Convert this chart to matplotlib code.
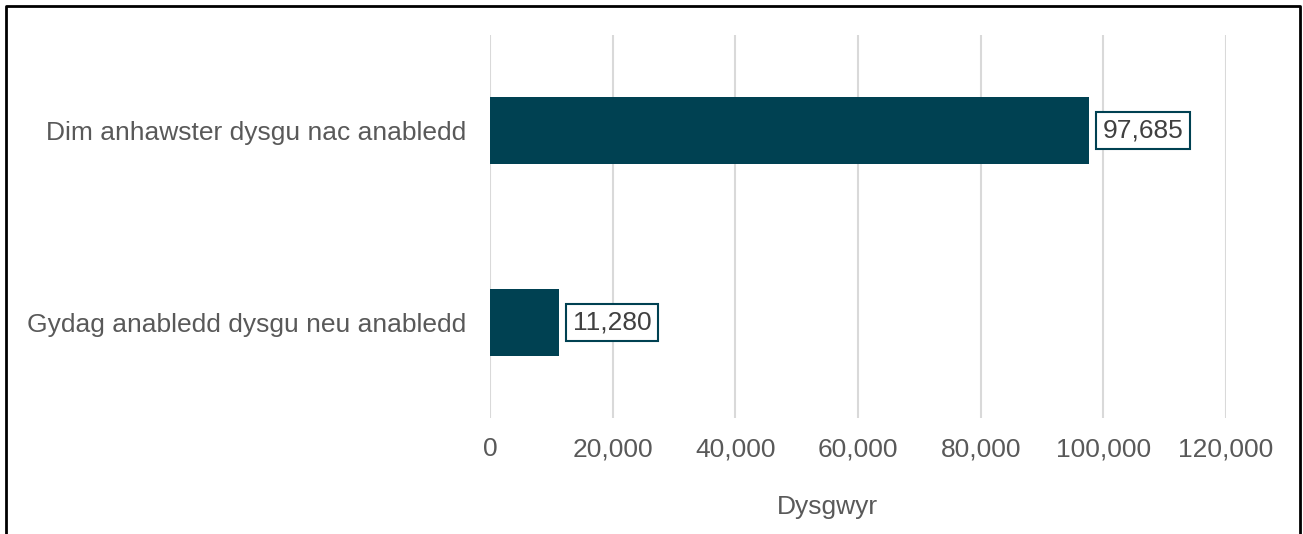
import matplotlib.pyplot as plt
from matplotlib.ticker import FuncFormatter

plt.rcParams['font.family'] = ['Liberation Sans', 'DejaVu Sans']

categories = ['Dim anhawster dysgu nac anabledd', 'Gydag anabledd dysgu neu anabledd']
values = [97685, 11280]
xticks = [0, 20000, 40000, 60000, 80000, 100000, 120000]

bar_color = '#004152'
text_color = '#595959'

fig = plt.figure(figsize=(13.03, 5.34), dpi=100)
ax = fig.add_axes([490 / 1303, 1 - 418 / 534, 736 / 1303, 383 / 534])

ypos = range(len(categories))
ax.barh(ypos, values, height=0.35, color=bar_color, zorder=3)
ax.set_ylim(1.5, -0.5)
ax.set_xlim(0, 120000)
ax.set_yticks(list(ypos))
ax.set_yticklabels(categories, fontsize=19, color=text_color)
ax.set_xticks(xticks)
ax.xaxis.set_major_formatter(FuncFormatter(lambda v, p: f'{int(v):,}'))
ax.tick_params(axis='x', labelsize=19, labelcolor=text_color, length=0, pad=14)
ax.tick_params(axis='y', length=0, pad=17)
ax.grid(axis='x', color='#d9d9d9', linewidth=1.5, zorder=0)
for s in ax.spines.values():
    s.set_visible(False)

ax.set_xlabel('Dysgwyr', fontsize=19, color=text_color)
ax.xaxis.set_label_coords(0.459, -0.2)

# data labels
for y, v in zip(ypos, values):
    ax.annotate(f'{v:,}', xy=(v, y), xytext=(10, 0), textcoords='offset points',
                va='center', ha='left', fontsize=19, color='#404040',
                bbox=dict(boxstyle='square,pad=0.25', fc='white', ec=bar_color, lw=1.5))

# outer border (no bottom edge)
fig.add_artist(plt.Line2D([6 / 1303, 6 / 1303, 1300 / 1303, 1300 / 1303],
                          [0, 1 - 6 / 534, 1 - 6 / 534, 0],
                          transform=fig.transFigure, color='black', lw=2))

fig.savefig('out.png', dpi=100)
